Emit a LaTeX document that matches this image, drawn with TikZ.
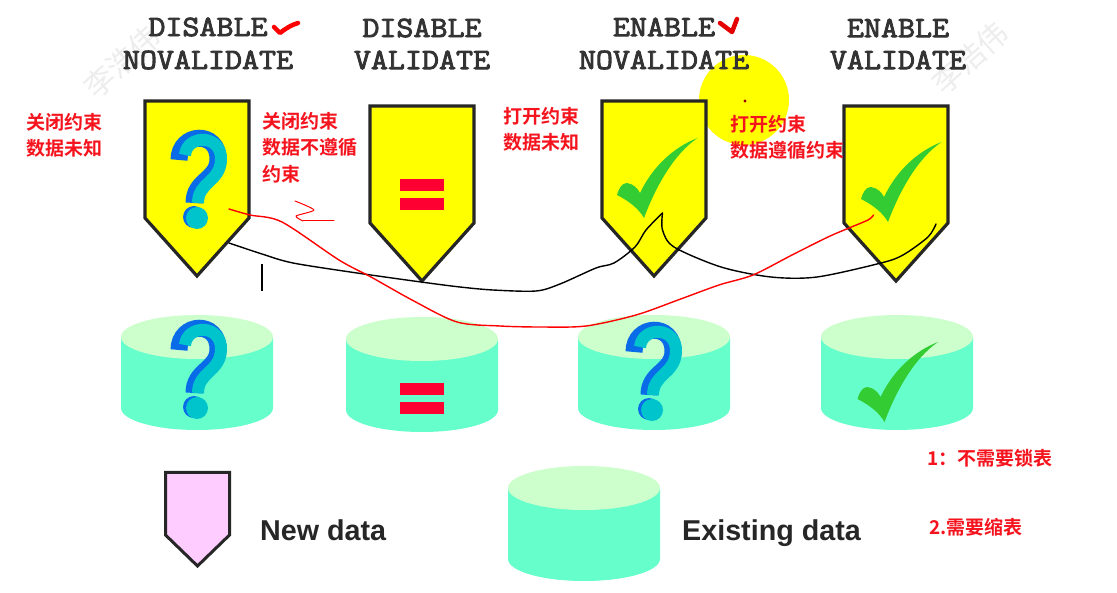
\documentclass[tikz,border=0pt]{standalone}
\usepackage{fontspec}
\setmainfont{Liberation Sans}
\newfontfamily\cjk{Noto Sans CJK SC}[BoldFont={* Bold}]
\newfontfamily\hdfont{Latin Modern Mono}[FakeBold=3,FakeStretch=1.12]
\definecolor{shieldY}{HTML}{FFFF00}
\definecolor{shieldP}{HTML}{FFCCFF}
\definecolor{drumS}{HTML}{66FFCC}
\definecolor{drumT}{HTML}{CCFFCC}
\definecolor{tickG}{HTML}{33CC33}
\definecolor{qCyan}{HTML}{00C4CC}
\definecolor{qBlue}{HTML}{0A6BE8}
\definecolor{eqRed}{HTML}{FF0033}
\definecolor{noteRed}{HTML}{F5141E}
\definecolor{wmark}{HTML}{EDEDED}
\definecolor{hdText}{HTML}{333333}
\tikzset{
  x=1pt,y=-1pt,
  heading/.style={font=\hdfont\fontsize{29.5}{30}\selectfont,text=hdText,inner sep=0pt,anchor=center},
  note/.style={font=\cjk\bfseries\fontsize{19}{26.5}\selectfont,text=noteRed,align=left,anchor=north west,inner sep=0pt},
  legendtext/.style={font=\bfseries\fontsize{28.7}{30}\selectfont,text=black!85,inner sep=0pt,anchor=base west},
  watermark/.style={font=\cjk\fontsize{30}{30}\selectfont,text=wmark,rotate=42,inner sep=0pt},
  ink/.style={line width=1.4pt,line cap=round,line join=round},
  shield/.pic={\path[draw=black!85,line width=3.2pt,line join=miter,fill=shieldY]
    (-52,-177)--(52,-177)--(52,-60)--(0,-2)--(-52,-60)--cycle;},
  drum/.pic={\path[fill=drumS] (-76,22) -- (-76,93) arc[start angle=180,end angle=360,x radius=76,y radius=-22] -- (76,22) -- cycle;
    \path[fill=drumT] (0,22) ellipse[x radius=76,y radius=22];},
  qm/.pic={
    \draw[qBlue,line width=17pt] (-18,-20) .. controls (-18,-48) and (22,-50) .. (21,-20) .. controls (20,0) and (-3,0) .. (-3,23);
    \fill[qBlue] (-3,37) circle[radius=11];
    \draw[qCyan,line width=12pt] (-12,-25) .. controls (-10,-46) and (25,-46) .. (24,-20) .. controls (23,2) and (1,2) .. (1,23);
    \fill[qCyan] (0,38) circle[radius=11];},
  tick/.pic={\fill[tickG] (-37,15) .. controls (-35,8) and (-32,3) .. (-27,3) .. controls (-20,4) and (-16,9) .. (-14,13)
    .. controls (-2,-12) and (18,-32) .. (43.5,-42) .. controls (20,-26) and (2,6) .. (-10,38)
    .. controls (-15,29) and (-25,21) .. (-37,15) -- cycle;},
  eqbars/.pic={\fill[eqRed] (-22,-15.5) rectangle (22,-3.5); \fill[eqRed] (-22,3.5) rectangle (22,15.5);},
}
\begin{document}
\begin{tikzpicture}
\useasboundingbox (0,0) rectangle (1117,593);
\fill[white] (0,0) rectangle (1117,593);

% watermarks and highlight
\node[watermark] (wm1) at (122,62) {李浩伟};
\node[watermark] (wm2) at (970,58) {李浩伟};
\fill[shieldY] (744,100) circle[radius=45];
\fill[red!60!black] (745,101) circle[radius=1.7];

% headings
\node[heading] (h1a) at (208,27) {DISABLE};
\node[heading] (h1b) at (208,60) {NOVALIDATE};
\node[heading] (h2a) at (422,28) {DISABLE};
\node[heading] (h2b) at (422,60) {VALIDATE};
\node[heading] (h3a) at (664,27) {ENABLE};
\node[heading] (h3b) at (664,60) {NOVALIDATE};
\node[heading] (h4a) at (898,28) {ENABLE};
\node[heading] (h4b) at (898,60) {VALIDATE};

% shields
\pic at (197,278) {shield};
\pic at (422,283) {shield};
\pic at (654,278) {shield};
\pic at (896,283) {shield};
\pic at (197,180) {qm};
\pic at (422,195) {eqbars};
\pic at (654,180) {tick};
\pic at (898,184) {tick};

% drums
\pic at (197,315) {drum};
\pic at (422,317) {drum};
\pic at (654,315) {drum};
\pic at (897,315) {drum};
\pic at (197,370) {qm};
\pic at (422,399) {eqbars};
\pic at (652,372) {qm};
\pic at (894.5,384) {tick};

% legend
\path[draw=black!85,line width=3pt,fill=shieldP] (165.5,472.5)--(229.5,472.5)--(229.5,535)--(197.5,566)--(165.5,535)--cycle;
\node[legendtext] (newdata) at (260,540) {New data};
\pic at (584,466) {drum};
\node[legendtext] (existing) at (682,540) {Existing data};

% red notes
\node[note] (n1) at (26,113) {关闭约束\\数据未知};
\node[note] (n2) at (262,112) {关闭约束\\数据不遵循\\约束};
\node[note] (n3) at (503,107) {打开约束\\数据未知};
\node[note] (n4) at (730,115) {打开约束\\数据遵循约束};
\node[note] (n5) at (927,449) {1：不需要锁表};
\node[note] (n6) at (929,518) {2.需要缩表};

% hand-drawn marks
\draw[red,line width=4.5pt,line cap=round,line join=round] (274,27) -- (280,33) .. controls (285,29) and (291,25) .. (298,23);
\draw[red!90!black,line width=4.5pt,line cap=round,line join=round] (720,23) -- (732,32) -- (737,19);
\draw[black,ink] plot[smooth,tension=.5] coordinates {(229,243) (262,254) (293,263) (357,273) (421,282) (460,287) (493,290) (536,291) (560,284) (596,268) (614,263) (635,247) (646,230) (662.5,213)};
\draw[black,ink] plot[smooth,tension=.5] coordinates {(662.5,213) (662.5,230) (674,247) (721,267) (771,277) (817,277) (881,263) (903,255) (928,237) (936,224)};
\draw[black,line width=1.4pt] (262,264) -- (262,291);
\draw[red,ink] plot[smooth,tension=.5] coordinates {(229,209) (250,215) (282,222) (339,260) (371,277) (412,300) (457,322) (500,326) (540,327) (586,326) (636,315) (678,300) (719,285) (753,275) (792,255) (828,237) (849,228) (868,220) (873.6,215)};
\draw[red,line width=1pt,line cap=round,line join=round] plot[smooth,tension=.4] coordinates {(295,201) (314,210) (296,216) (303,221)};
\draw[red,line width=1pt,line cap=round] (303,221) -- (334,221);
\end{tikzpicture}
\end{document}
